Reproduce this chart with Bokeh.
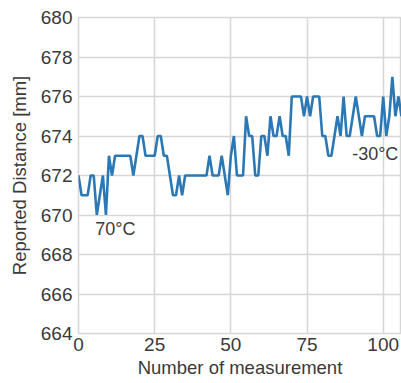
from bokeh.plotting import figure
from bokeh.models import FixedTicker, Range1d, Label
from bokeh.embed import file_html
from bokeh.resources import INLINE

# Data
measurement = list(range(107))
distance = [
    672, 671, 671, 671, 672, 672, 670, 671, 672, 670,
    673, 672, 673, 673, 673, 673, 673, 673, 672, 673,
    674, 674, 673, 673, 673, 673, 674, 674, 673, 673,
    672, 671, 671, 672, 671, 672, 672, 672, 672, 672,
    672, 672, 672, 673, 672, 672, 672, 673, 672, 671,
    673, 674, 672, 672, 672, 675, 674, 674, 672, 672,
    674, 674, 673, 675, 674, 674, 675, 674, 674, 673,
    676, 676, 676, 676, 675, 676, 675, 676, 676, 676,
    674, 674, 673, 673, 674, 675, 674, 676, 674, 674,
    675, 676, 675, 674, 675, 675, 675, 675, 674, 674,
    676, 674, 675, 677, 675, 676, 675,
]
x_ticks = [0, 25, 50, 75, 100]
y_ticks = [664, 666, 668, 670, 672, 674, 676, 678, 680]
annotations = ["70°C", "-30°C"]
ann_x = [5.5, 89.8]
ann_y = [669.8, 673.6]
x_title = "Number of measurement"
y_title = "Reported Distance [mm]"

FONT = "Liberation Sans"
TXT = "#3a3a3a"
GRID = "#d6d6d6"

p = figure(width=401, height=383, output_backend="svg", toolbar_location=None,
           x_range=Range1d(0, 106), y_range=Range1d(664, 680),
           min_border_left=78, min_border_right=0, min_border_top=17, min_border_bottom=50)

p.line(measurement, distance, line_color="#2b78b5", line_width=2.6)

for t, ax, ay in zip(annotations, ann_x, ann_y):
    p.add_layout(Label(x=ax, y=ay, text=t, text_font=FONT, text_font_size="18px",
                       text_color=TXT, text_align="left", text_baseline="top"))

p.xaxis.ticker = FixedTicker(ticks=x_ticks)
p.yaxis.ticker = FixedTicker(ticks=y_ticks)
p.xaxis.axis_label = x_title
p.yaxis.axis_label = y_title

for ax in (p.xaxis, p.yaxis):
    ax.axis_line_color = None
    ax.major_tick_line_color = None
    ax.minor_tick_line_color = None
    ax.major_tick_out = 0
    ax.major_tick_in = 0
    ax.minor_tick_out = 0
    ax.minor_tick_in = 0
    ax.major_label_text_font = FONT
    ax.major_label_text_font_size = "19px"
    ax.major_label_text_color = TXT
    ax.axis_label_text_font = FONT
    ax.axis_label_text_font_size = "18.5px"
    ax.axis_label_text_font_style = "normal"
    ax.axis_label_text_color = TXT

p.xaxis.major_label_standoff = 4
p.xaxis.axis_label_standoff = 3
p.yaxis.major_label_standoff = 6
p.yaxis.axis_label_standoff = 8

p.xgrid.grid_line_color = GRID
p.ygrid.grid_line_color = GRID
p.xgrid.grid_line_width = 1.5
p.ygrid.grid_line_width = 1.5
p.outline_line_color = GRID
p.outline_line_width = 1.5

open("out.html", "w").write(file_html(p, INLINE))
